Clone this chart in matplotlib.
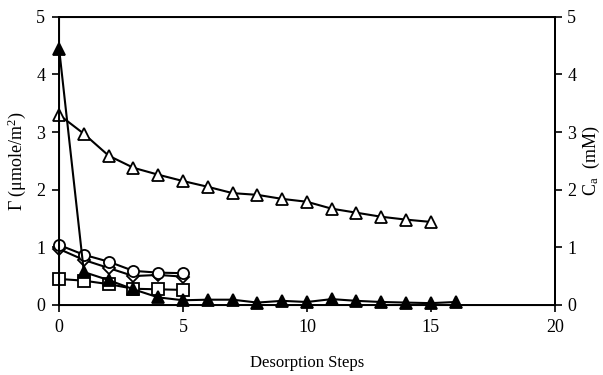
import matplotlib
matplotlib.use("Agg")
import matplotlib.pyplot as plt

plt.rcParams["font.family"] = ["Liberation Serif", "DejaVu Serif"]
plt.rcParams["mathtext.fontset"] = "custom"
plt.rcParams["mathtext.rm"] = "Liberation Serif"
plt.rcParams["mathtext.it"] = "Liberation Serif:italic"

# desorption data
steps_long = list(range(17))
gamma_filled_tri = [4.45, 0.57, 0.43, 0.27, 0.13, 0.08, 0.09, 0.09, 0.04, 0.07,
                    0.05, 0.10, 0.07, 0.05, 0.04, 0.03, 0.05]
steps_open_tri = list(range(16))
gamma_open_tri = [3.30, 2.97, 2.59, 2.38, 2.26, 2.15, 2.05, 1.94, 1.91, 1.84,
                  1.79, 1.67, 1.60, 1.53, 1.48, 1.44]
steps_short = list(range(6))
gamma_circle = [1.04, 0.87, 0.75, 0.59, 0.56, 0.55]
gamma_diamond = [0.97, 0.78, 0.64, 0.50, 0.52, 0.49]
gamma_square = [0.45, 0.42, 0.36, 0.28, 0.27, 0.26]

x_ticks = [0, 5, 10, 15, 20]
y_ticks = [0, 1, 2, 3, 4, 5]

fig = plt.figure(figsize=(6.03, 3.75), dpi=100)
ax = fig.add_axes([0.098, 0.187, 0.822, 0.768])

line_kw = dict(color="black", lw=1.5, markeredgewidth=1.3,
               markeredgecolor="black", clip_on=False)
ax.plot(steps_short, gamma_square, marker="s", markersize=8,
        markerfacecolor="white", **line_kw)
ax.plot(steps_short, gamma_diamond, marker="D", markersize=6.5,
        markerfacecolor="white", **line_kw)
ax.plot(steps_short, gamma_circle, marker="o", markersize=8,
        markerfacecolor="white", **line_kw)
ax.plot(steps_open_tri, gamma_open_tri, marker="^", markersize=8,
        markerfacecolor="white", **line_kw)
ax.plot(steps_long, gamma_filled_tri, marker="^", markersize=8,
        markerfacecolor="black", **line_kw)

ax.set_xlim(0, 20)
ax.set_ylim(0, 5)
ax.set_xticks(x_ticks)
ax.set_yticks(y_ticks)
ax.tick_params(direction="out", length=5, width=1.2, labelsize=13, pad=5)
for side in ax.spines.values():
    side.set_linewidth(1.4)

ax.set_xlabel("Desorption Steps", fontsize=12, labelpad=14)
ax.set_ylabel(r"Γ (μmole/m$^2$)", fontsize=13, labelpad=6)

ax2 = ax.twinx()
ax2.set_ylim(0, 5)
ax2.set_yticks(y_ticks)
ax2.tick_params(direction="out", length=5, width=1.2, labelsize=13, pad=4)
ax2.spines["right"].set_linewidth(1.4)
ax2.set_ylabel(r"C$_\mathrm{a}$  (mM)", fontsize=13, labelpad=3)

fig.savefig("out.png", dpi=100)
